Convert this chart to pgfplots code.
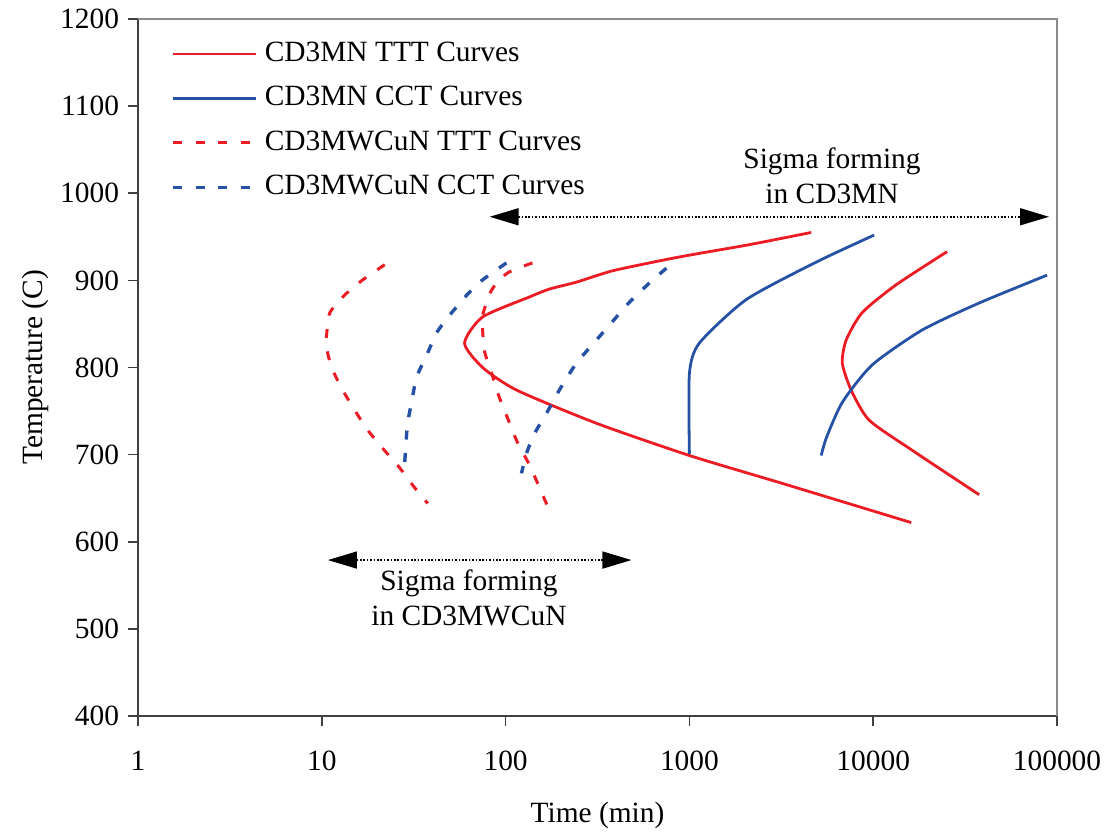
\documentclass[border=0pt]{standalone}
\usepackage{fontspec}
\setmainfont{Liberation Serif}
\usepackage{pgfplots}
\pgfplotsset{compat=1.18}
\usetikzlibrary{arrows.meta}
\definecolor{cred}{RGB}{237,28,36}
\definecolor{cblue}{RGB}{38,82,165}
\begin{document}
\begin{tikzpicture}[font=\fontsize{14.7}{17.5}\selectfont]
\useasboundingbox (-69pt,-60.5pt) rectangle (486pt,358pt);
\begin{axis}[
 at={(0,0)}, anchor=south west,
 scale only axis, width=459.5pt, height=348.5pt,
 xmode=log, xmin=1, xmax=100000, ymin=400, ymax=1200,
 clip=false,
 axis x line*=bottom, axis y line*=left,
 axis line style={black!75, line width=0.8pt, -},
 xtick={1,10,100,1000,10000,100000}, xticklabels={1,10,100,1000,10000,100000},
 ytick={400,500,...,1200}, yticklabels={400,500,600,700,800,900,1000,1100,1200},
 minor tick num=0, xminorticks=false,
 tick align=outside, major tick length=5pt,
 tick style={black!75, line width=0.8pt},
 xticklabel style={yshift=-9pt},
 yticklabel style={xshift=-1pt},
 xlabel={Time (min)}, ylabel={Temperature (C)},
 x label style={at={(axis description cs:0.5,-0.142)}, anchor=center},
 y label style={at={(axis description cs:-0.112,0.5)}, anchor=center},
 legend style={draw=none, fill=none, at={(axis description cs:0,1)}, anchor=north west,
   xshift=16.5pt, yshift=-8.5pt, inner sep=0pt, row sep=4.75pt,
   nodes={inner ysep=2pt, inner xsep=3.5pt, text height=10.5pt, text depth=3pt},
   font=\fontsize{14.7}{17.5}\selectfont},
 legend cell align=left,
 legend image code/.code={\draw[#1] (0pt,0pt) -- (41.5pt,0pt);},
 solidred/.style={cred, line width=1.4pt, smooth, tension=0.4},
 solidblue/.style={cblue, line width=1.4pt, smooth, tension=0.4},
 dashred/.style={cred, line width=1.5pt, dash pattern=on 4.5pt off 6.75pt, smooth, tension=0.4},
 dashblue/.style={cblue, line width=1.7pt, dash pattern=on 4.5pt off 6.75pt, smooth, tension=0.4},
]
% CD3MN TTT
\addplot[solidred] coordinates {
(4600,955) (2120,941) (1133,931) (750,924) (382,911) (243,898) (173,890) (135,881)
(75,858) (59.8,828) (75,800) (115,774) (312,736) (1000,699) (3200,667) (16100,622)};
\addlegendentry{CD3MN TTT Curves}
% CD3MN CCT
\addplot[solidblue] coordinates {
(10120,952) (4900,921) (2040,878) (1133,828) (1000,793) (1000,701)};
\addlegendentry{CD3MN CCT Curves}
% CD3MWCuN TTT
\addplot[dashred] coordinates {
(22,918) (16.7,900.6) (13.3,883) (11.05,862.6) (10.6,835) (10.6,823.5) (11.3,800)
(13.0,774) (15.1,751) (17.8,728) (21.5,707) (26.5,685) (31.2,665) (37.7,644)};
\addlegendentry{CD3MWCuN TTT Curves}
% CD3MWCuN CCT
\addplot[dashblue] coordinates {
(101,920) (75,900.6) (61.4,883) (49.6,860) (42.2,840) (37.2,814) (32.8,789)
(30.8,760) (29.3,736) (28.6,708) (28.1,682)};
\addlegendentry{CD3MWCuN CCT Curves}
% second curves
\addplot[solidred, forget plot] coordinates {
(25250,933) (13340,895) (8710,863) (7130,831.5) (6790,805) (7590,774) (9510,739.5)
(16300,705) (37700,654)};
\addplot[solidblue, forget plot] coordinates {
(88300,906) (37700,874) (18460,843) (9880,803) (6790,760) (5555,719) (5215,699)};
\addplot[dashred, forget plot] coordinates {
(140,920) (102.5,908.6) (84,889) (75,860) (75,843) (76.9,818) (84,793.5) (91.6,768)
(102.5,742) (116,714) (135,688) (153,662) (173,636)};
\addplot[dashblue, forget plot] coordinates {
(750,914) (606,897) (472,875) (401,858) (312,831.5) (243,805) (196,774) (167,747.5)
(144,724.5) (130,701.5) (122,678.5)};
% frame top/right
\draw[black!45, line width=1pt] (rel axis cs:0,1) -- (rel axis cs:1,1) -- (rel axis cs:1,0);
% arrows
\draw[black, line width=0.75pt, dash pattern=on 0.8pt off 0.9pt,
  {Triangle[length=14.5pt,width=8.5pt]}-{Triangle[length=14.5pt,width=8.5pt]}]
  (axis cs:81.9,973) -- (axis cs:90500,973);
\draw[black, line width=0.75pt, dash pattern=on 0.8pt off 0.9pt,
  {Triangle[length=14.5pt,width=8.5pt]}-{Triangle[length=14.5pt,width=8.5pt]}]
  (axis cs:10.8,579) -- (axis cs:484,579);
\node[align=center, font=\fontsize{14.7}{17.5}\selectfont] at (axis cs:5970,1020) {Sigma forming\\in CD3MN};
\node[align=center, font=\fontsize{14.7}{17.5}\selectfont] at (axis cs:63.2,536) {Sigma forming\\in CD3MWCuN};
\end{axis}
\end{tikzpicture}
\end{document}
